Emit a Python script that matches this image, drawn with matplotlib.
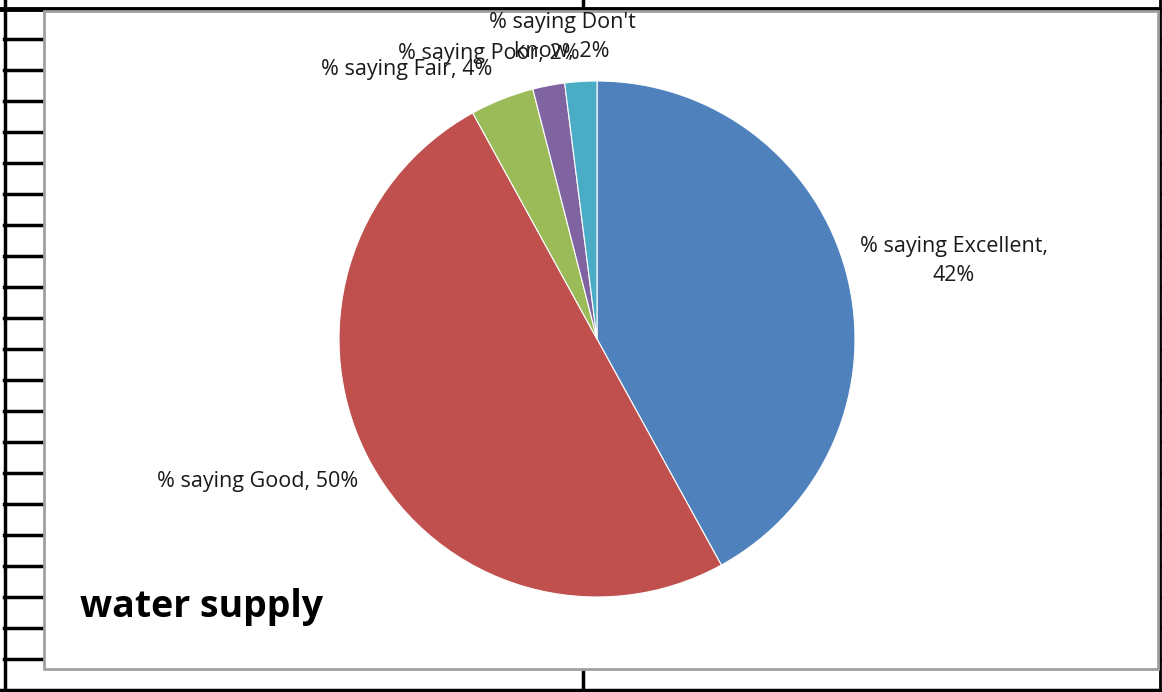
import matplotlib.pyplot as plt
from matplotlib.patches import Rectangle

categories = ["% saying Excellent", "% saying Good", "% saying Fair",
              "% saying Poor", "% saying Don't know"]
values = [42, 50, 4, 2, 2]
colors = ["#4F81BD", "#C0504D", "#9BBB59", "#8064A2", "#4BACC6"]
title = "water supply"

W, H = 1162, 692
fig = plt.figure(figsize=(W / 100, H / 100), dpi=100)
plt.rcParams['font.family'] = ['Open Sans', 'DejaVu Sans']

# background axes in pixel coords (spreadsheet grid + chart frame)
bg = fig.add_axes([0, 0, 1, 1])
bg.set_xlim(0, W)
bg.set_ylim(H, 0)
bg.axis('off')
bg.plot([0, W], [8.5, 8.5], color='black', lw=3.5)
bg.plot([0, W], [689.5, 689.5], color='black', lw=2.5)
bg.plot([4.5, 4.5], [0, H], color='black', lw=2.5)
bg.plot([1160, 1160], [0, H], color='black', lw=2)
bg.plot([583, 583], [0, 10], color='black', lw=2.5)
bg.plot([583, 583], [668, H], color='black', lw=2.5)
for y in range(39, 690, 31):
    bg.plot([4, 44], [y, y], color='black', lw=2.5)
    bg.plot([1157, 1162], [y, y], color='black', lw=2.5)
bg.add_patch(Rectangle((43.5, 10.5), 1114, 658, facecolor='white',
                       edgecolor='#A0A0A0', lw=2, zorder=3))
bg.text(80, 607, title, fontsize=27, fontweight='bold', va='center',
        ha='left', zorder=4)

# pie
cx, cy, r = 597, 339, 258
ax = fig.add_axes([(cx - r) / W, (H - cy - r) / H, 2 * r / W, 2 * r / H])
ax.pie(values, colors=colors, startangle=90, counterclock=False,
       wedgeprops=dict(edgecolor='white', linewidth=0.8))
ax.set_aspect('equal')
ax.set_xlim(-1, 1)
ax.set_ylim(-1, 1)

label_pos = [(954, 261), (258, 482), (407, 70), (489, 54), (562, 37)]
label_txt = [f"{categories[0]},\n{values[0]}%",
             f"{categories[1]}, {values[1]}%",
             f"{categories[2]}, {values[2]}%",
             f"{categories[3]}, {values[3]}%",
             "% saying Don't\nknow, " + f"{values[4]}%"]
for (x, y), t in zip(label_pos, label_txt):
    bg.text(x, y, t, fontsize=15.5, ha='center', va='center',
            linespacing=1.55, zorder=5, color='#1a1a1a')

fig.savefig('out.png', dpi=100)
